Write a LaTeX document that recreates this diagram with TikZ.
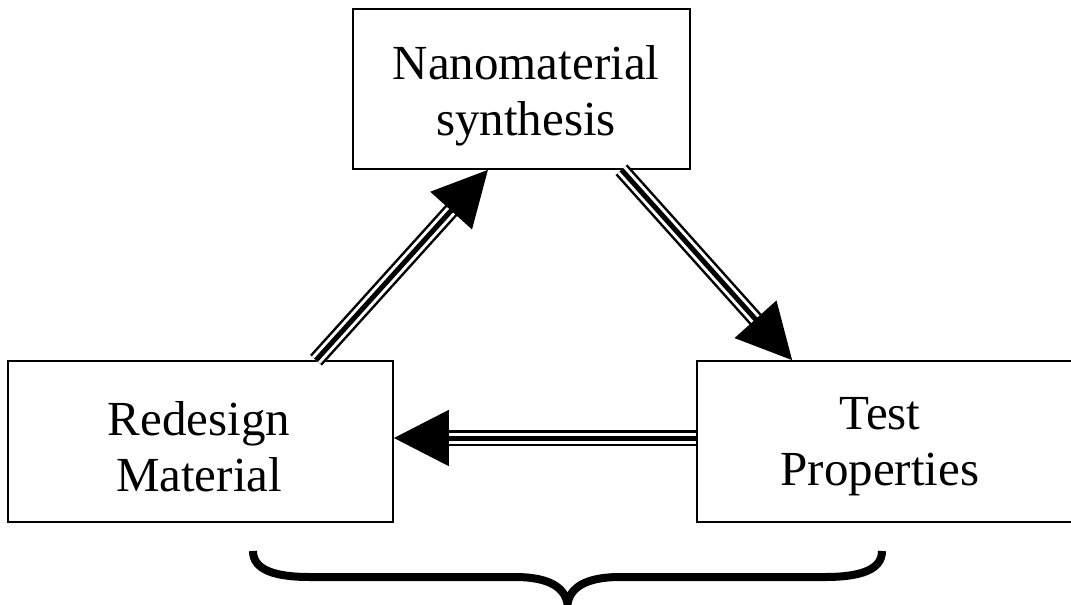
\documentclass[tikz,border=0pt]{standalone}
\usepackage{fontspec}
\setmainfont{Liberation Serif}
\usetikzlibrary{arrows.meta}
\begin{document}
\begin{tikzpicture}[x=1pt,y=-1pt,
  box/.style={draw, line width=1.6pt, inner sep=0pt},
  lbl/.style={align=center, inner sep=0pt, font=\fontsize{49}{56}\selectfont},
  triple/.style={line width=5pt, -{Triangle[length=55pt,width=55pt]},
    preaction={draw, line width=16pt, shorten >=53pt, -},
    preaction={draw=white, line width=11pt, shorten >=53pt, -}},
  bracestyle/.style={line width=8pt}]
\useasboundingbox (0,0) rectangle (1071,605);
\node[box, minimum width=337pt, minimum height=160pt] (syn) at (521.5,89) {};
\node[lbl] (synl) at (526,96) {Nanomaterial\\synthesis};
\node[box, minimum width=385pt, minimum height=161pt] (red) at (200.5,441.5) {};
\node[lbl] (redl) at (199,447) {Redesign\\Material};
\node[box, minimum width=378pt, minimum height=161pt] (test) at (886,441.5) {};
\node[lbl] (testl) at (880,447) {Test\\Properties};
\draw[triple] ([xshift=115.5pt]red.north) -- ([xshift=-33.5pt]syn.south);
\draw[triple] ([xshift=100pt]syn.south) -- ([xshift=96pt]test.north west);
\draw[triple] ([yshift=3.5pt]test.west) -- ([yshift=3.5pt]red.east);
\draw[bracestyle] (253,551) .. controls (253,570) and (275,577) .. (310,577) -- (515,577)
  .. controls (550,577) and (565,588) .. (567.5,604)
  .. controls (570,588) and (585,577) .. (620,577) -- (825,577)
  .. controls (860,577) and (882,570) .. (882,551);
\end{tikzpicture}
\end{document}
